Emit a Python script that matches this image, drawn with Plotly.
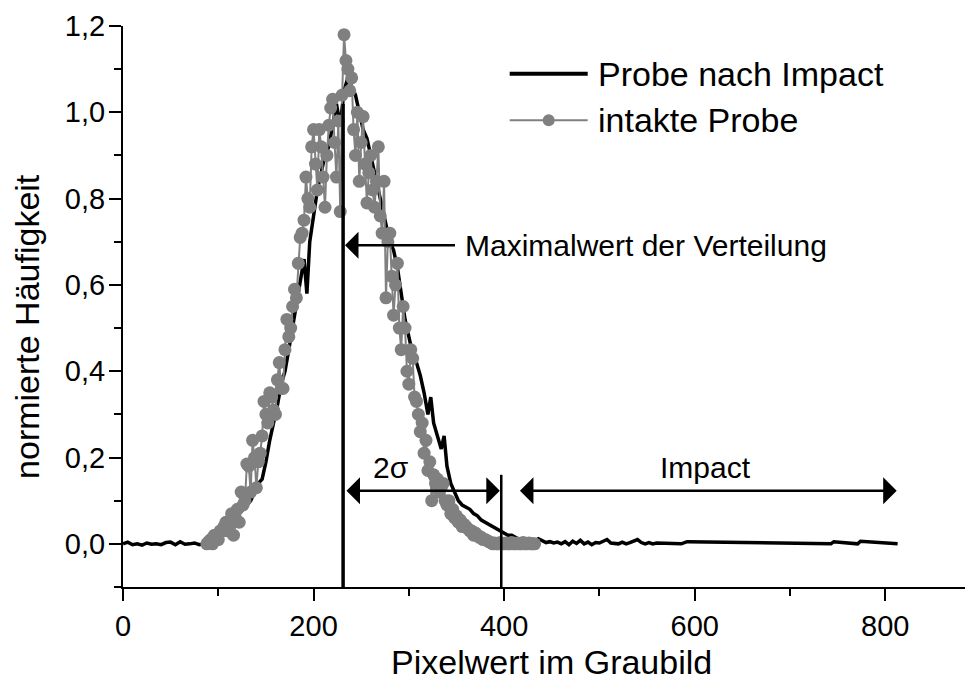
import plotly.graph_objects as go

# ---- data: "Probe nach Impact" (black line) ----
impact_x = [0, 5, 10, 15, 20, 25, 30, 35, 40, 45, 50, 55, 60, 65, 70, 75, 80, 85,
            90, 94, 98, 102, 106, 110, 114, 118, 122, 126, 130, 134, 138, 142, 146,
            150, 154, 158, 162, 166, 170, 174, 178, 182, 186, 190, 193, 196, 200,
            204, 208, 212, 216, 220, 224, 228, 232, 236, 240, 244, 248, 252, 256,
            260, 264, 268, 272, 276, 280, 284, 288, 292, 296, 300, 304, 308, 312,
            316, 320, 323, 326, 330, 334, 337, 340, 344, 348, 352, 356, 360, 364,
            368, 372, 376, 380, 384, 388, 392, 396, 400, 404, 408, 412, 416, 420,
            424, 428, 432, 436, 440, 444, 448, 452, 456, 460, 464, 468, 472, 476,
            480, 484, 488, 492, 496, 500, 504, 508, 512, 516, 520, 524, 528, 532,
            536, 540, 544, 548, 552, 556, 560, 580, 586, 592, 740, 743, 746, 768,
            771, 774, 810, 813]
impact_y = [0.0, 0.004, -0.002, 0.0, -0.003, 0.002, -0.001, 0.0, -0.002, 0.003,
            0.004, -0.002, 0.005, -0.001, 0.0, 0.002, -0.002, 0.0,
            0.005, 0.01, 0.015, 0.02, 0.03, 0.04, 0.05, 0.06, 0.07, 0.08, 0.09, 0.10,
            0.12, 0.14, 0.15, 0.19, 0.24, 0.28, 0.32, 0.37, 0.40, 0.45, 0.50, 0.55,
            0.60, 0.66, 0.58, 0.70, 0.76, 0.82, 0.86, 0.90, 0.92, 0.97, 1.02, 0.97,
            1.05, 1.08, 1.06, 1.04, 1.00, 0.96, 0.94, 0.90, 0.86, 0.82, 0.78, 0.74,
            0.70, 0.68, 0.64, 0.58, 0.52, 0.48, 0.44, 0.42, 0.39, 0.35, 0.30, 0.34,
            0.28, 0.25, 0.22, 0.25, 0.18, 0.14, 0.12, 0.10, 0.09, 0.085, 0.08, 0.07,
            0.065, 0.055, 0.05, 0.045, 0.04, 0.035, 0.03, 0.025, 0.02, 0.02, 0.015,
            0.01, 0.012, 0.008, 0.01, 0.006, 0.012, 0.008, 0.003, 0.005, 0.002,
            0.004, 0.0, 0.005, -0.002, 0.006, 0.001, 0.008, 0.0, 0.004, -0.002,
            0.003, 0.002, 0.006, 0.01, 0.002, 0.001, 0.0, 0.004, 0.0, 0.003, 0.006,
            0.01, 0.003, 0.0, 0.003, 0.0, 0.002, 0.0, 0.0, 0.005, 0.0, 0.0, 0.005,
            0.0, 0.0, 0.006, 0.0, 0.0, 0.005]

# ---- data: "intakte Probe" (grey line with markers), x = 88, 90, ..., 432 ----
intakt_x = list(range(88, 433, 2))
intakt_y = [
    0.00, 0.005, 0.01, 0.00, 0.02, 0.015, 0.01, 0.03, 0.03, 0.04,      # 88-106
    0.05, 0.03, 0.04, 0.07, 0.02, 0.06, 0.08, 0.05, 0.12, 0.09,        # 108-126
    0.10, 0.185, 0.18, 0.12, 0.24, 0.20, 0.13, 0.19, 0.21, 0.25,       # 128-146
    0.33, 0.30, 0.28, 0.35, 0.34, 0.31, 0.30, 0.38, 0.42, 0.36,        # 148-166
    0.36, 0.45, 0.52, 0.48, 0.50, 0.55, 0.59, 0.57, 0.65, 0.71,        # 168-186
    0.72, 0.75, 0.85, 0.80, 0.78, 0.92, 0.96, 0.88, 0.82, 0.96,        # 188-206
    0.92, 0.85, 0.78, 0.90, 0.97, 1.01, 1.03, 0.93, 0.85, 0.98,        # 208-226
    0.77, 1.04, 1.18, 1.12, 1.10, 1.05, 1.08, 0.96, 0.90, 1.00,        # 228-246
    0.84, 0.93, 0.99, 0.88, 0.79, 0.86, 0.90, 0.82, 0.78, 0.84,        # 248-266
    0.92, 0.76, 0.72, 0.84, 0.57, 0.70, 0.72, 0.62, 0.53, 0.60,        # 268-286
    0.65, 0.50, 0.45, 0.55, 0.50, 0.40, 0.37, 0.45, 0.43, 0.34,        # 288-306
    0.33, 0.30, 0.26, 0.28, 0.21, 0.24, 0.17, 0.19, 0.10, 0.16,        # 308-326
    0.14, 0.15, 0.12, 0.13, 0.14, 0.10, 0.09, 0.10, 0.07, 0.08,        # 328-346
    0.06, 0.065, 0.05, 0.055, 0.04, 0.045, 0.04, 0.035, 0.03, 0.03,    # 348-366
    0.02, 0.025, 0.02, 0.015, 0.015, 0.01, 0.01, 0.008, 0.005, 0.003,  # 368-386
    0.0, 0.002, 0.0, 0.0, 0.003, 0.0, 0.0, 0.002, 0.0, 0.0,            # 388-406
    0.003, 0.0, 0.0, 0.002, 0.0, 0.0, 0.003, 0.0, 0.0, 0.002,          # 408-426
    0.0, 0.0, 0.0,                                                     # 428-432
]

# ---- annotation values ----
max_x = 231          # Maximalwert der Verteilung
max_line_top = 1.02
sigma_x = 397        # end of 2 sigma range
sigma_line_top = 0.16
arrow_y = 0.123
label_y = 0.176
impact_end = 812

series_names = ["Probe nach Impact", "intakte Probe"]
x_title = "Pixelwert im Graubild"
y_title = "normierte Häufigkeit"

FONT = "Liberation Sans, Arial, sans-serif"
GREY = "#808080"

fig = go.Figure()
fig.add_trace(go.Scatter(x=impact_x, y=impact_y, mode="lines", name=series_names[0],
                         line=dict(color="black", width=3.5), showlegend=False))
fig.add_trace(go.Scatter(x=intakt_x, y=intakt_y, mode="lines+markers", name=series_names[1],
                         line=dict(color=GREY, width=2),
                         marker=dict(color=GREY, size=13), showlegend=False))

shapes = [
    dict(type="line", xref="x", yref="y", x0=max_x, x1=max_x, y0=-0.1, y1=max_line_top,
         line=dict(color="black", width=3.5)),
    dict(type="line", xref="x", yref="y", x0=sigma_x, x1=sigma_x, y0=-0.1, y1=sigma_line_top,
         line=dict(color="black", width=2.5)),
    # custom legend
    dict(type="line", xref="paper", yref="paper", x0=0.456, x1=0.548, y0=0.915, y1=0.915,
         line=dict(color="black", width=4)),
    dict(type="line", xref="paper", yref="paper", x0=0.456, x1=0.548, y0=0.832, y1=0.832,
         line=dict(color=GREY, width=2)),
    dict(type="circle", xref="paper", yref="paper", xsizemode="pixel", ysizemode="pixel",
         xanchor=0.502, yanchor=0.832, x0=-6, x1=6, y0=-6, y1=6,
         fillcolor=GREY, line=dict(color=GREY, width=0)),
]

ann_font = dict(family=FONT, size=30, color="black")
title_font = dict(family=FONT, size=34, color="black")
annotations = [
    # arrow to max line
    dict(x=max_x + 2, y=0.692, ax=350, ay=0.692, xref="x", yref="y", axref="x", ayref="y",
         text="", showarrow=True, arrowhead=1, arrowsize=1.8, arrowwidth=2.5,
         arrowcolor="black", standoff=0),
    dict(x=357, y=0.692, xref="x", yref="y", text="Maximalwert der Verteilung",
         showarrow=False, xanchor="left", yanchor="middle", font=ann_font),
    # 2 sigma double arrow
    dict(x=sigma_x - 1.5, y=arrow_y, ax=max_x + 2, ay=arrow_y, xref="x", yref="y",
         axref="x", ayref="y", text="", showarrow=True, arrowhead=1, startarrowhead=1,
         arrowside="end+start", arrowsize=1.8, startarrowsize=1.8, arrowwidth=2.5,
         arrowcolor="black", standoff=0, startstandoff=0),
    dict(x=281, y=label_y, xref="x", yref="y", text="2σ", showarrow=False,
         xanchor="center", yanchor="middle", font=ann_font),
    # Impact double arrow
    dict(x=impact_end, y=arrow_y, ax=415, ay=arrow_y, xref="x", yref="y",
         axref="x", ayref="y", text="", showarrow=True, arrowhead=1, startarrowhead=1,
         arrowside="end+start", arrowsize=1.8, startarrowsize=1.8, arrowwidth=2.5,
         arrowcolor="black", standoff=0, startstandoff=0),
    dict(x=611, y=label_y, xref="x", yref="y", text="Impact", showarrow=False,
         xanchor="center", yanchor="middle", font=ann_font),
    # legend texts
    dict(x=0.558, y=0.915, xref="paper", yref="paper", text=series_names[0],
         showarrow=False, xanchor="left", yanchor="middle", font=title_font),
    dict(x=0.558, y=0.832, xref="paper", yref="paper", text=series_names[1],
         showarrow=False, xanchor="left", yanchor="middle", font=title_font),
    # axis titles
    dict(x=0.505, y=-0.134, xref="paper", yref="paper", text=x_title,
         showarrow=False, xanchor="center", yanchor="middle", font=title_font),
    dict(x=-0.1132, y=0.4636, xref="paper", yref="paper", text=y_title, textangle=-90,
         showarrow=False, xanchor="center", yanchor="middle", font=title_font),
]

# page body has an 8px margin, so the figure is 8px smaller and margins compensate
fig.update_layout(
    width=965, height=676,
    margin=dict(l=115, r=2, t=16, b=97),
    paper_bgcolor="white", plot_bgcolor="white",
    separators=",.",
    font=dict(family=FONT, color="black"),
    shapes=shapes, annotations=annotations,
)
fig.update_xaxes(
    range=[0, 890], tickvals=[0, 200, 400, 600, 800], ticks="outside", ticklen=12,
    tickwidth=2, tickcolor="black", showline=True, linewidth=2, linecolor="black",
    showgrid=False, zeroline=False, tickfont=dict(family=FONT, size=29),
    minor=dict(dtick=100, tick0=0, ticks="outside", ticklen=7, tickwidth=2, tickcolor="black"),
)
fig.update_yaxes(
    range=[-0.1, 1.2], tickvals=[0, 0.2, 0.4, 0.6, 0.8, 1.0, 1.2], tickformat=".1f",
    ticks="outside", ticklen=12, tickwidth=2, tickcolor="black", showline=True,
    linewidth=2, linecolor="black", showgrid=False, zeroline=False,
    tickfont=dict(family=FONT, size=29), ticklabelstandoff=-2,
    minor=dict(dtick=0.1, tick0=0, ticks="outside", ticklen=7, tickwidth=2, tickcolor="black"),
)

fig.write_html("out.html")
